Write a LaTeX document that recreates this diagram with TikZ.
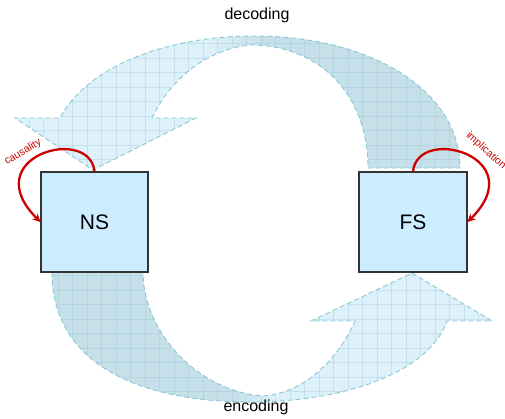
\documentclass[tikz,border=0pt]{standalone}
\usepackage{fontspec}
\setmainfont{Liberation Sans}
\usetikzlibrary{arrows.meta}

\definecolor{arrowlight}{RGB}{220,241,250}
\definecolor{arrowdark}{RGB}{198,224,234}
\definecolor{arrowedge}{RGB}{140,200,212}
\definecolor{arrowgrid}{RGB}{150,190,205}
\definecolor{boxfill}{RGB}{204,236,255}
\definecolor{boxedge}{RGB}{51,51,51}
\definecolor{linkred}{RGB}{204,0,0}

% fills of the two big curved arrows
\pgfdeclarehorizontalshading{lighttodark}{100bp}{color(0bp)=(arrowlight); color(47bp)=(arrowlight); color(53bp)=(arrowdark); color(100bp)=(arrowdark)}
\pgfdeclarehorizontalshading{darktolight}{100bp}{color(0bp)=(arrowdark); color(46bp)=(arrowdark); color(50bp)=(arrowlight); color(100bp)=(arrowlight)}

% outlines of the two curved arrows (page units, y grows downwards)
\def\decodingpath{(368,168) -- (460,168)
  .. controls (460,90) and (370,36) .. (255,36)
  .. controls (160,36) and (85,70) .. (60,118)
  -- (15,118) -- (93,170) -- (196,118) -- (152,118)
  .. controls (170,80) and (205,50) .. (250,45)
  .. controls (320,45) and (368,95) .. (368,168) -- cycle}
\def\encodingpath{(52,272)
  .. controls (52,370) and (150,402) .. (250,402)
  .. controls (350,402) and (430,370) .. (447,321)
  -- (492,321) -- (412,273) -- (311,321) -- (355,321)
  .. controls (335,365) and (300,394) .. (262,396)
  .. controls (195,390) and (143,330) .. (143,272) -- cycle}

% faint square texture laid over a filled arrow
\newcommand\texturegrid{%
  \foreach \gx in {0,14.5,...,505} {\draw[texture] (\gx,0) -- (\gx,419);}
  \foreach \gy in {0,14.5,...,419} {\draw[texture] (0,\gy) -- (505,\gy);}}

\begin{document}
\begin{tikzpicture}[x=1pt,y=-1pt,
  bigarrow/.style={draw=arrowedge,line width=0.9pt,dash pattern=on 5pt off 3pt},
  texture/.style={draw=arrowgrid,line width=0.5pt,opacity=0.3},
  statebox/.style={draw=boxedge,fill=boxfill,line width=1.1pt,
    minimum width=107pt,minimum height=100pt,inner sep=0pt,
    font=\fontsize{21}{25}\selectfont},
  flowlabel/.style={font=\fontsize{16}{19}\selectfont,anchor=base},
  linkarrow/.style={draw=linkred,line width=2.3pt,
    -{Stealth[length=8pt,width=8pt]}},
  linklabel/.style={text=linkred,font=\fontsize{10.5}{12}\selectfont,inner sep=0pt}]
\useasboundingbox (0,0) rectangle (505,419);

% decoding arrow: fill, faint texture, dashed outline
\path[shading=lighttodark] \decodingpath;
\begin{scope}
  \clip \decodingpath;
  \texturegrid
\end{scope}
\path[bigarrow] \decodingpath;

% encoding arrow
\path[shading=darktolight] \encodingpath;
\begin{scope}
  \clip \encodingpath;
  \texturegrid
\end{scope}
\path[bigarrow] \encodingpath;

% the two states
\node[statebox] (NS) at (94.5,222) {NS};
\node[statebox,minimum width=108pt] (FS) at (413,222) {FS};

% arrow captions
\node[flowlabel] (dec) at (257,20) {decoding};
\node[flowlabel] (enc) at (256,411) {encoding};

% self relations
\draw[linkarrow] (NS.north) .. controls +(-5,-47) and +(-65,-65) .. (NS.west);
\draw[linkarrow] (FS.north) .. controls +(5,-47) and +(65,-65) .. (FS.east);
\node[linklabel,rotate=31] (caus) at (23,152) {causality};
\node[linklabel,rotate=-42] (impl) at (486,151) {implication};
\end{tikzpicture}
\end{document}
